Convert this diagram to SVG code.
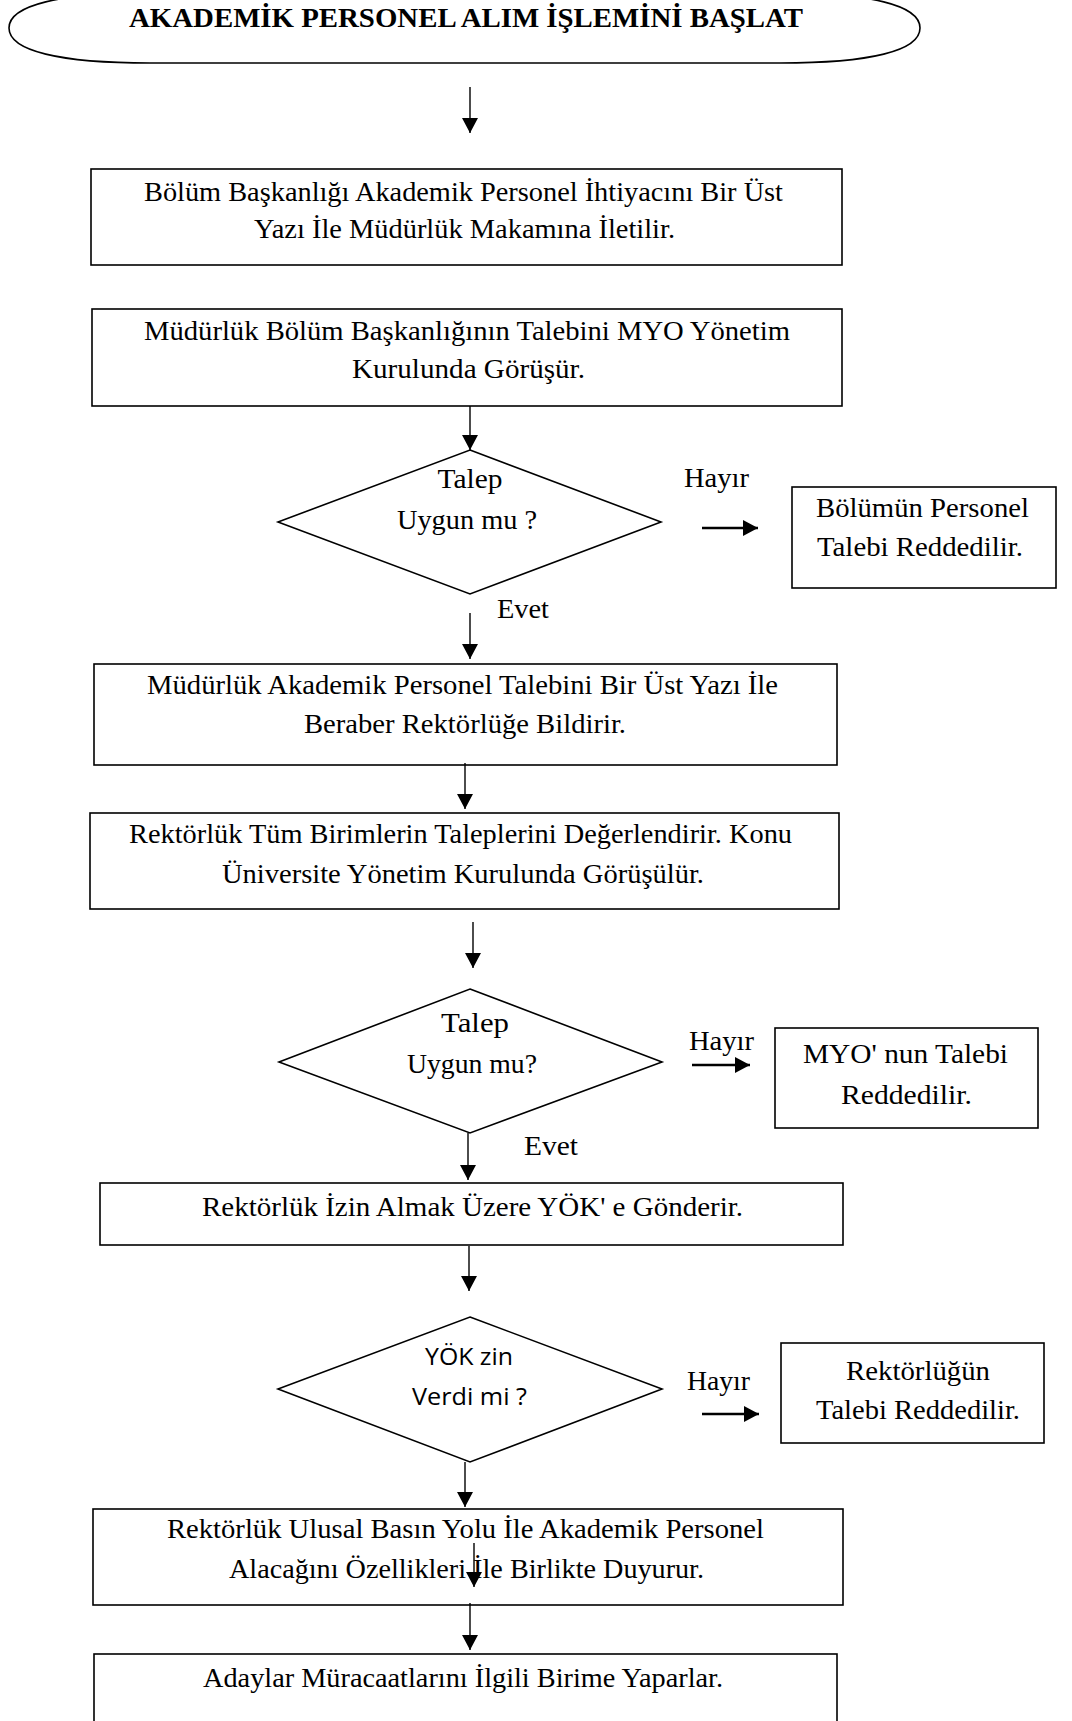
<svg xmlns="http://www.w3.org/2000/svg" width="1072" height="1721" viewBox="0 0 1072 1721">
<style>
.bg{fill:#ffffff}
.shape{fill:#ffffff;stroke:#000000;stroke-width:1.6}
.t{font-family:"Liberation Serif","Times New Roman",serif;font-size:28px;fill:#000000;text-anchor:middle}
.title{font-family:"Liberation Serif","Times New Roman",serif;font-size:28px;font-weight:bold;fill:#000000;text-anchor:middle}
.s{font-family:"Open Sans","Liberation Sans",sans-serif;font-size:24px;fill:#000000;text-anchor:middle}
.c{fill:none;stroke:#000000;stroke-width:1.4}
.ct{fill:none;stroke:#000000;stroke-width:2.6}
</style>
<defs>
<marker id="ah" markerUnits="userSpaceOnUse" markerWidth="16" markerHeight="16" refX="15" refY="8" orient="auto">
<path d="M0,0 L15,8 L0,16 Z" fill="#000000"/>
</marker>
<marker id="ahT" markerUnits="userSpaceOnUse" markerWidth="16" markerHeight="16" refX="15" refY="8" orient="auto">
<path d="M0,0 L15,8 L0,16 Z" fill="#000000"/>
</marker>
</defs>
<rect class="bg" x="0" y="0" width="1072" height="1721"/>

<g id="start">
<path class="shape" d="M9,28 C9,5 60,-7 150,-7 L780,-7 C870,-7 920,5 920,28 C920,51 870,63 780,63 L150,63 C60,63 9,51 9,28 Z"/>
<text class="title" x="466" y="27" textLength="674" lengthAdjust="spacingAndGlyphs">AKADEMİK PERSONEL ALIM İŞLEMİNİ BAŞLAT</text>
</g>

<g id="box1">
<rect class="shape" x="91" y="169" width="751" height="96"/>
<text class="t" x="463.5" y="201" textLength="639" lengthAdjust="spacingAndGlyphs">Bölüm Başkanlığı Akademik Personel İhtiyacını Bir Üst</text>
<text class="t" x="464.5" y="238" textLength="421" lengthAdjust="spacingAndGlyphs">Yazı İle Müdürlük Makamına İletilir.</text>
</g>

<g id="box2">
<rect class="shape" x="92" y="309" width="750" height="97"/>
<text class="t" x="467" y="340" textLength="646" lengthAdjust="spacingAndGlyphs">Müdürlük Bölüm Başkanlığının Talebini MYO Yönetim</text>
<text class="t" x="468.5" y="378" textLength="233" lengthAdjust="spacingAndGlyphs">Kurulunda Görüşür.</text>
</g>

<g id="decision1">
<polygon class="shape" points="470,450 661,522 470,594 278,522"/>
<text class="t" x="470" y="488" textLength="65" lengthAdjust="spacingAndGlyphs">Talep</text>
<text class="t" x="467" y="529" textLength="140" lengthAdjust="spacingAndGlyphs">Uygun mu ?</text>
</g>

<g id="reject1">
<rect class="shape" x="792" y="487" width="264" height="101"/>
<text class="t" x="922.5" y="517" textLength="213" lengthAdjust="spacingAndGlyphs">Bölümün Personel</text>
<text class="t" x="920" y="556" textLength="206" lengthAdjust="spacingAndGlyphs">Talebi Reddedilir.</text>
</g>

<g id="box3">
<rect class="shape" x="94" y="664" width="743" height="101"/>
<text class="t" x="462.5" y="694" textLength="631" lengthAdjust="spacingAndGlyphs">Müdürlük Akademik Personel Talebini Bir Üst Yazı İle</text>
<text class="t" x="465" y="733" textLength="322" lengthAdjust="spacingAndGlyphs">Beraber Rektörlüğe Bildirir.</text>
</g>

<g id="box4">
<rect class="shape" x="90" y="813" width="749" height="96"/>
<text class="t" x="460.5" y="843" textLength="663" lengthAdjust="spacingAndGlyphs">Rektörlük Tüm Birimlerin Taleplerini Değerlendirir. Konu</text>
<text class="t" x="463" y="883" textLength="482" lengthAdjust="spacingAndGlyphs">Üniversite Yönetim Kurulunda Görüşülür.</text>
</g>

<g id="decision2">
<polygon class="shape" points="470,989 662,1062 470,1133 279,1062"/>
<text class="t" x="475" y="1032" textLength="68" lengthAdjust="spacingAndGlyphs">Talep</text>
<text class="t" x="472" y="1073" textLength="130" lengthAdjust="spacingAndGlyphs">Uygun mu?</text>
</g>

<g id="reject2">
<rect class="shape" x="775" y="1028" width="263" height="100"/>
<text class="t" x="905.5" y="1063" textLength="205" lengthAdjust="spacingAndGlyphs">MYO' nun Talebi</text>
<text class="t" x="906.5" y="1104" textLength="131" lengthAdjust="spacingAndGlyphs">Reddedilir.</text>
</g>

<g id="box5">
<rect class="shape" x="100" y="1183" width="743" height="62"/>
<text class="t" x="472.5" y="1216" textLength="541" lengthAdjust="spacingAndGlyphs">Rektörlük İzin Almak Üzere YÖK' e Gönderir.</text>
</g>

<g id="decision3">
<polygon class="shape" points="470,1317 662,1389 470,1462 278,1389"/>
<text class="s" x="469" y="1365" textLength="88" lengthAdjust="spacingAndGlyphs">YÖK zin</text>
<text class="s" x="469.5" y="1405" textLength="115" lengthAdjust="spacingAndGlyphs">Verdi mi ?</text>
</g>

<g id="reject3">
<rect class="shape" x="781" y="1343" width="263" height="100"/>
<text class="t" x="918" y="1380" textLength="144" lengthAdjust="spacingAndGlyphs">Rektörlüğün</text>
<text class="t" x="918" y="1419" textLength="204" lengthAdjust="spacingAndGlyphs">Talebi Reddedilir.</text>
</g>

<g id="box6">
<rect class="shape" x="93" y="1509" width="750" height="96"/>
<text class="t" x="465.5" y="1538" textLength="597" lengthAdjust="spacingAndGlyphs">Rektörlük Ulusal Basın Yolu İle Akademik Personel</text>
<text class="t" x="466.5" y="1578" textLength="475" lengthAdjust="spacingAndGlyphs">Alacağını Özellikleri İle Birlikte Duyurur.</text>
</g>

<g id="box7">
<rect class="shape" x="94" y="1654" width="743" height="90"/>
<text class="t" x="463" y="1687" textLength="520" lengthAdjust="spacingAndGlyphs">Adaylar Müracaatlarını İlgili Birime Yaparlar.</text>
</g>

<g id="connectors">
<line class="c" x1="470" y1="87" x2="470" y2="133" marker-end="url(#ah)"/>
<line class="c" x1="470" y1="406" x2="470" y2="450" marker-end="url(#ah)"/>
<line class="c" x1="470" y1="613" x2="470" y2="659" marker-end="url(#ah)"/>
<line class="c" x1="465" y1="763" x2="465" y2="809" marker-end="url(#ah)"/>
<line class="c" x1="473" y1="922" x2="473" y2="968" marker-end="url(#ah)"/>
<line class="c" x1="468" y1="1133" x2="468" y2="1180" marker-end="url(#ah)"/>
<line class="c" x1="469" y1="1246" x2="469" y2="1291" marker-end="url(#ah)"/>
<line class="c" x1="465" y1="1462" x2="465" y2="1507" marker-end="url(#ah)"/>
<line class="c" x1="474" y1="1543" x2="474" y2="1587" marker-end="url(#ah)"/>
<line class="c" x1="470" y1="1603" x2="470" y2="1650" marker-end="url(#ah)"/>
<line class="ct" x1="702" y1="528" x2="758" y2="528" marker-end="url(#ahT)"/>
<line class="ct" x1="692" y1="1065" x2="750" y2="1065" marker-end="url(#ahT)"/>
<line class="ct" x1="702" y1="1414" x2="759" y2="1414" marker-end="url(#ahT)"/>
</g>

<g id="labels">
<text class="t" x="716.5" y="487" textLength="65" lengthAdjust="spacingAndGlyphs">Hayır</text>
<text class="t" x="523" y="618" textLength="52" lengthAdjust="spacingAndGlyphs">Evet</text>
<text class="t" x="721.5" y="1050" textLength="65" lengthAdjust="spacingAndGlyphs">Hayır</text>
<text class="t" x="551" y="1155" textLength="54" lengthAdjust="spacingAndGlyphs">Evet</text>
<text class="t" x="718.5" y="1390" textLength="63" lengthAdjust="spacingAndGlyphs">Hayır</text>
</g>
</svg>
